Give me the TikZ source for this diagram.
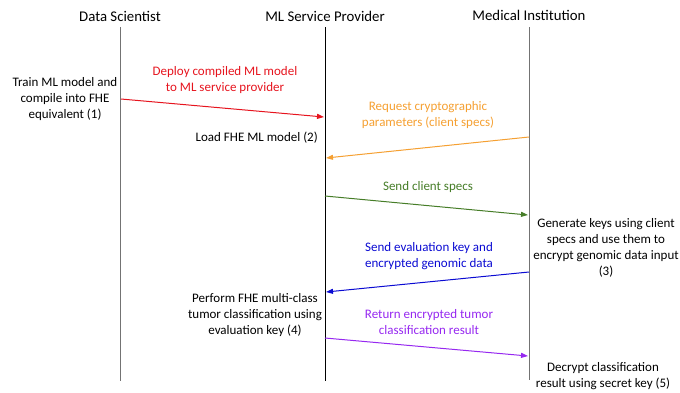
\documentclass[tikz,border=0pt]{standalone}
\usepackage{fontspec}
\setmainfont{Carlito}
\usetikzlibrary{arrows.meta}

\definecolor{deployred}{RGB}{230,20,30}
\definecolor{reqorange}{RGB}{245,160,50}
\definecolor{specgreen}{RGB}{70,125,40}
\definecolor{evalblue}{RGB}{10,10,210}
\definecolor{resultpurple}{RGB}{150,40,240}

\tikzset{
  actor/.style={font=\fontsize{14.8}{18}\selectfont},
  lifeline/.style={draw=black!55, line width=0.9pt},
  stepnote/.style={align=center, font=\fontsize{13}{16}\selectfont, inner sep=0pt},
  msg/.style={line width=1pt, -{Triangle[length=7pt,width=5pt]}},
  msglabel/.style={align=center, font=\fontsize{13}{16}\selectfont, inner sep=0pt}
}

\begin{document}
\begin{tikzpicture}[x=1pt, y=-1pt]
  \useasboundingbox (0,0) rectangle (680,392);

  % actors and lifelines
  \node[actor] (ds) at (120,16) {Data Scientist};
  \node[actor] (ml) at (325,16) {ML Service Provider};
  \node[actor] (mi) at (529,15) {Medical Institution};
  \coordinate (dsEnd) at (120,381);
  \coordinate (mlEnd) at (325,381);
  \coordinate (miEnd) at (529,380);
  \draw[lifeline] (120,27) -- (dsEnd);
  \draw[lifeline, draw=black] (325,27) -- (mlEnd);
  \draw[lifeline] (529,27) -- (miEnd);

  % message end points on the lifelines
  \coordinate (deployA) at (121,99);  \coordinate (deployB) at (324,117);
  \coordinate (reqA) at (529,137);    \coordinate (reqB) at (326,158);
  \coordinate (specA) at (325,196);   \coordinate (specB) at (528,215);
  \coordinate (evalA) at (529,272);   \coordinate (evalB) at (326,292);
  \coordinate (resA) at (325,338);    \coordinate (resB) at (528,356);

  % messages
  \draw[msg, deployred] (deployA) -- (deployB);
  \node[msglabel, text=deployred] (deployLbl) at (225,80)
    {Deploy compiled ML model\\to ML service provider};
  \draw[msg, reqorange] (reqA) -- (reqB);
  \node[msglabel, text=reqorange] (reqLbl) at (428,115)
    {Request cryptographic\\parameters (client specs)};
  \draw[msg, specgreen] (specA) -- (specB);
  \node[msglabel, text=specgreen] (specLbl) at (428,187) {Send client specs};
  \draw[msg, evalblue] (evalA) -- (evalB);
  \node[msglabel, text=evalblue] (evalLbl) at (429,256)
    {Send evaluation key and\\encrypted genomic data};
  \draw[msg, resultpurple] (resA) -- (resB);
  \node[msglabel, text=resultpurple] (resLbl) at (429,322)
    {Return encrypted tumor\\classification result};

  % processing steps
  \node[stepnote] (train) at (65,99)
    {Train ML model and\\compile into FHE\\equivalent (1)};
  \node[stepnote, anchor=east] (load) at (318,138) {Load FHE ML model (2)};
  \node[stepnote] (keys) at (606,248)
    {Generate keys using client\\specs and use them to\\encrypt genomic data input\\(3)};
  \node[stepnote] (classify) at (255,315)
    {Perform FHE multi-class\\tumor classification using\\evaluation key (4)};
  \node[stepnote] (decrypt) at (603,376)
    {Decrypt classification\\result using secret key (5)};
\end{tikzpicture}
\end{document}
